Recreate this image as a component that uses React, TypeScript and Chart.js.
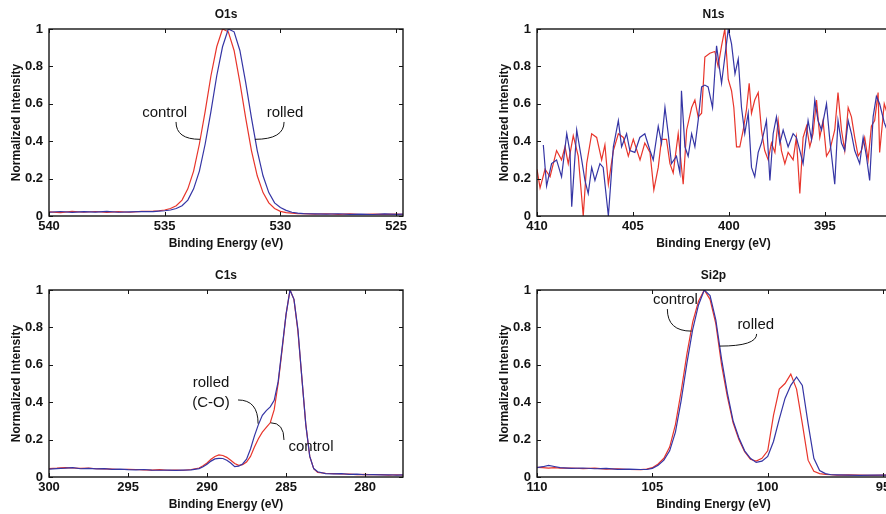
import React, { useEffect, useRef } from 'react';
import { Chart, registerables } from 'chart.js';

Chart.register(...registerables);

const FONT = 'Arial, "Liberation Sans", Helvetica, sans-serif';
const RED = '#e8352b';
const BLUE = '#3535a5';
const INK = '#141414';

// ---------- shared axis labels ----------
const yTicks = [0, 0.2, 0.4, 0.6, 0.8, 1];
const yTickLabels = ['0', '0.2', '0.4', '0.6', '0.8', '1'];
const xAxisTitle = 'Binding Energy (eV)';
const yAxisTitle = 'Normalized Intensity';

// ---------- O1s ----------
const o1sTicks = [540, 535, 530, 525];
const o1sTickLabels = ['540', '535', '530', '525'];
const o1sX = [
  540, 539.5, 539, 538.5, 538, 537.5, 537, 536.5, 536, 535.5,
  535.25, 535, 534.75, 534.5, 534.25, 534, 533.75, 533.5, 533.25, 533,
  532.75, 532.5, 532.25, 532, 531.75, 531.5, 531.25, 531, 530.75, 530.5,
  530.25, 530, 529.75, 529.5, 529.25, 529, 528.5, 528, 527.5, 527,
  526.5, 526, 525.5, 525, 524.7,
];
const o1sControl = [
  0.022, 0.018, 0.025, 0.02, 0.024, 0.019, 0.023, 0.02, 0.025, 0.026,
  0.028, 0.032, 0.04, 0.055, 0.085, 0.145, 0.24, 0.385, 0.56, 0.75,
  0.905, 1.0, 0.985, 0.885, 0.715, 0.525, 0.35, 0.215, 0.125, 0.07,
  0.04, 0.025, 0.018, 0.015, 0.012, 0.013, 0.01, 0.012, 0.009, 0.011,
  0.008, 0.01, 0.009, 0.01, 0.009,
];
const o1sRolled = [
  0.02, 0.024, 0.019, 0.023, 0.021, 0.025, 0.02, 0.022, 0.024, 0.023,
  0.026, 0.028, 0.032, 0.04, 0.055, 0.085, 0.145, 0.24, 0.385, 0.56,
  0.75, 0.905, 1.0, 0.985, 0.885, 0.715, 0.525, 0.35, 0.215, 0.125,
  0.07, 0.045, 0.03, 0.02, 0.015, 0.013, 0.011, 0.01, 0.012, 0.009,
  0.01, 0.008, 0.011, 0.009, 0.01,
];

// ---------- N1s ----------
const n1sTicks = [410, 405, 400, 395];
const n1sTickLabels = ['410', '405', '400', '395'];
const n1sControlX = [
  410.0, 409.84, 409.58, 409.32, 408.98, 408.72, 408.54, 408.37, 408.11, 407.85,
  407.59, 407.41, 407.15, 406.89, 406.63, 406.46, 406.28, 406.02, 405.76, 405.5,
  405.24, 404.98, 404.63, 404.38, 404.11, 403.91, 403.68, 403.51, 403.25, 403.07,
  402.9, 402.64, 402.38, 402.2, 401.94, 401.77, 401.6, 401.42, 401.25, 400.99,
  400.73, 400.56, 400.38, 400.21, 400.03, 399.86, 399.74, 399.6, 399.43, 399.25,
  399.08, 398.94, 398.82, 398.65, 398.47, 398.3, 398.13, 397.95, 397.78, 397.6,
  397.43, 397.26, 397.08, 396.91, 396.65, 396.48, 396.3, 396.13, 395.95, 395.78,
  395.61, 395.43, 395.26, 395.09, 394.91, 394.74, 394.48, 394.31, 394.13, 393.96,
  393.78, 393.61, 393.44, 393.26, 393.09, 392.92, 392.74, 392.57, 392.4, 392.22,
  392.14, 391.9, 391.6,
];
const n1sControl = [
  0.25, 0.15, 0.25, 0.21, 0.35, 0.3, 0.37, 0.28, 0.43, 0.32,
  0.0, 0.28, 0.44, 0.42, 0.3, 0.38, 0.17, 0.35, 0.44, 0.42,
  0.32, 0.41, 0.3, 0.39, 0.34, 0.14, 0.26, 0.41, 0.41, 0.28,
  0.23, 0.44, 0.17, 0.46, 0.58, 0.62, 0.53, 0.55, 0.85, 0.87,
  0.88, 0.8, 0.91, 1.0, 0.73, 0.67, 0.58, 0.37, 0.37, 0.46,
  0.57, 0.71, 0.55, 0.62, 0.66, 0.46, 0.35, 0.3, 0.39, 0.34,
  0.51, 0.35, 0.28, 0.34, 0.3, 0.42, 0.12, 0.42, 0.48, 0.37,
  0.44, 0.62, 0.42, 0.51, 0.32, 0.35, 0.46, 0.66, 0.46, 0.35,
  0.58, 0.53, 0.42, 0.32, 0.35, 0.42, 0.3, 0.48, 0.51, 0.66,
  0.34, 0.6, 0.5,
];
const n1sRolledX = [
  409.67, 409.5, 409.24, 408.98, 408.72, 408.45, 408.28, 408.19, 407.93, 407.67,
  407.5, 407.33, 407.15, 406.98, 406.72, 406.55, 406.28, 406.02, 405.76, 405.59,
  405.33, 405.16, 404.9, 404.64, 404.38, 404.11, 403.94, 403.68, 403.51, 403.33,
  403.16, 402.99, 402.73, 402.55, 402.47, 402.29, 402.12, 401.94, 401.77, 401.6,
  401.42, 401.25, 401.08, 400.85, 400.64, 400.5, 400.38, 400.21, 400.03, 399.86,
  399.68, 399.51, 399.34, 399.17, 398.99, 398.82, 398.65, 398.47, 398.3, 398.04,
  397.86, 397.69, 397.52, 397.34, 397.17, 396.91, 396.65, 396.48, 396.3, 396.13,
  395.87, 395.69, 395.52, 395.35, 395.17, 394.91, 394.74, 394.48, 394.31, 394.13,
  393.96, 393.78, 393.61, 393.44, 393.18, 393.0, 392.83, 392.66, 392.48, 392.31,
  392.14, 391.9, 391.6,
];
const n1sRolled = [
  0.38, 0.16, 0.28, 0.3, 0.21, 0.44, 0.34, 0.05, 0.46, 0.3,
  0.19, 0.12, 0.26, 0.19, 0.28, 0.26, 0.0, 0.37, 0.51, 0.37,
  0.44, 0.35, 0.34, 0.42, 0.44, 0.35, 0.3, 0.48, 0.39, 0.58,
  0.44, 0.28, 0.32, 0.23, 0.67, 0.37, 0.32, 0.44, 0.37, 0.51,
  0.69, 0.7, 0.69, 0.58, 0.91, 0.8, 0.71, 0.85, 1.0, 0.92,
  0.76, 0.84, 0.58, 0.44, 0.55, 0.26, 0.21, 0.34, 0.39, 0.51,
  0.19, 0.44, 0.53, 0.39, 0.46, 0.37, 0.44, 0.42, 0.35, 0.28,
  0.51, 0.41, 0.62, 0.51, 0.46, 0.6, 0.41, 0.17, 0.51, 0.39,
  0.35, 0.51, 0.44, 0.35, 0.28, 0.42, 0.32, 0.19, 0.53, 0.64,
  0.6, 0.5, 0.42,
];

// ---------- C1s ----------
const c1sTicks = [300, 295, 290, 285, 280];
const c1sTickLabels = ['300', '295', '290', '285', '280'];
const c1sX = [
  300, 299.5, 299, 298.5, 298, 297.5, 297, 296.5, 296, 295.5,
  295, 294.5, 294, 293.5, 293, 292.5, 292, 291.5, 291, 290.5,
  290.25, 290, 289.75, 289.5, 289.25, 289, 288.75, 288.5, 288.25, 288,
  287.75, 287.5, 287.25, 287, 286.75, 286.5, 286.25, 286, 285.75, 285.5,
  285.25, 285, 284.75, 284.5, 284.25, 284, 283.75, 283.5, 283.25, 283,
  282.5, 282, 281.5, 281, 280.5, 280, 279.5, 279, 278.5, 278,
  277.6,
];
const c1sControl = [
  0.045, 0.047, 0.05, 0.048, 0.046, 0.047, 0.044, 0.043, 0.042, 0.04,
  0.041, 0.04, 0.038, 0.037, 0.039, 0.036, 0.037, 0.036, 0.04, 0.048,
  0.06, 0.075, 0.095, 0.11, 0.118, 0.115, 0.105, 0.09, 0.072, 0.062,
  0.066, 0.08, 0.11, 0.16, 0.205, 0.24, 0.265, 0.29, 0.36, 0.5,
  0.68, 0.87, 1.0, 0.95, 0.78, 0.53, 0.28, 0.11, 0.045, 0.025,
  0.02, 0.018, 0.016, 0.015, 0.013, 0.014, 0.012, 0.013, 0.01, 0.012,
  0.01,
];
const c1sRolled = [
  0.042, 0.045, 0.047, 0.05, 0.044, 0.046, 0.043, 0.045, 0.041, 0.042,
  0.039, 0.038, 0.04, 0.037, 0.036, 0.037, 0.035, 0.037, 0.038, 0.045,
  0.055, 0.068, 0.085, 0.097, 0.1, 0.099, 0.09, 0.075, 0.055, 0.058,
  0.07, 0.095, 0.15, 0.22, 0.28, 0.33, 0.355, 0.375, 0.41, 0.51,
  0.69, 0.87, 1.0, 0.95, 0.79, 0.53, 0.28, 0.11, 0.045, 0.028,
  0.018, 0.017, 0.018, 0.014, 0.015, 0.012, 0.013, 0.011, 0.012, 0.01,
  0.011,
];

// ---------- Si2p ----------
const si2pTicks = [110, 105, 100, 95];
const si2pTickLabels = ['110', '105', '100', '95'];
const si2pX = [
  110, 109.75, 109.5, 109.25, 109,
  108.5, 108, 107.5, 107, 106.5, 106, 105.5,
  105.25, 105, 104.75, 104.5, 104.25, 104, 103.75, 103.5, 103.25, 103,
  102.75, 102.5, 102.25, 102, 101.75, 101.5, 101.25, 101, 100.75, 100.5,
  100.25, 100, 99.75, 99.5, 99.25, 99, 98.75, 98.5, 98.25, 98,
  97.75, 97.5, 97.25, 97,
  96.5, 96, 95.5, 95, 94.7,
];
const si2pControl = [
  0.052, 0.05, 0.048, 0.05, 0.047,
  0.048, 0.045, 0.047, 0.042, 0.044, 0.04, 0.039,
  0.042, 0.05, 0.07, 0.1, 0.16, 0.28, 0.46, 0.66, 0.83, 0.94,
  1.0, 0.95, 0.82, 0.6, 0.43, 0.29, 0.2, 0.135, 0.095, 0.085,
  0.1, 0.14, 0.33, 0.47, 0.5, 0.55, 0.47, 0.285, 0.09, 0.03,
  0.018, 0.014, 0.012, 0.01,
  0.011, 0.01, 0.009, 0.01, 0.01,
];
const si2pRolled = [
  0.05, 0.055, 0.062, 0.056, 0.05,
  0.046, 0.048, 0.044, 0.046, 0.041, 0.042, 0.04,
  0.04, 0.046, 0.063, 0.09, 0.14, 0.24, 0.41, 0.61, 0.79, 0.92,
  1.0, 0.97, 0.84, 0.63, 0.45, 0.3, 0.21, 0.14, 0.1, 0.078,
  0.085, 0.11, 0.19, 0.31, 0.42, 0.49, 0.535, 0.49, 0.285, 0.1,
  0.035, 0.018, 0.012, 0.011,
  0.01, 0.009, 0.01, 0.01, 0.01,
];

// ---------- annotations (data coordinates) ----------
type Pt = [number, number];
type Note = { text: string; at: Pt; from?: Pt; to?: Pt; bend?: 'v' | 'h' };

const o1sNotes: Note[] = [
  { text: 'control', at: [535.0, 0.551], from: [534.51, 0.503], to: [533.47, 0.41], bend: 'v' },
  { text: 'rolled', at: [529.8, 0.551], from: [529.84, 0.503], to: [531.1, 0.41], bend: 'v' },
];
const c1sNotes: Note[] = [
  { text: 'rolled', at: [289.75, 0.503] },
  { text: '(C-O)', at: [289.75, 0.396], from: [288.04, 0.412], to: [286.77, 0.285], bend: 'h' },
  { text: 'control', at: [283.42, 0.16], from: [285.98, 0.29], to: [285.13, 0.198], bend: 'h' },
];
const si2pNotes: Note[] = [
  { text: 'control', at: [104.0, 0.947], from: [104.35, 0.898], to: [103.3, 0.78], bend: 'v' },
  { text: 'rolled', at: [100.52, 0.813], from: [100.48, 0.765], to: [102.09, 0.7], bend: 'v' },
];

type Series = { x: number[]; y: number[] };
type Panel = {
  title: string;
  xMin: number;
  xMax: number;
  xTicks: number[];
  xTickLabels: string[];
  control: Series;
  rolled: Series;
  notes: Note[];
  left: number;
  top: number;
  width: number;
  padLeft: number;
  padRight: number;
};

const panels: Panel[] = [
  {
    title: 'O1s', xMin: 524.7, xMax: 540, xTicks: o1sTicks, xTickLabels: o1sTickLabels,
    control: { x: o1sX, y: o1sControl }, rolled: { x: o1sX, y: o1sRolled }, notes: o1sNotes,
    left: 0, top: 0, width: 443, padLeft: 0, padRight: 40,
  },
  {
    title: 'N1s', xMin: 391.6, xMax: 410, xTicks: n1sTicks, xTickLabels: n1sTickLabels,
    control: { x: n1sControlX, y: n1sControl }, rolled: { x: n1sRolledX, y: n1sRolled }, notes: [],
    left: 443, top: 0, width: 460, padLeft: 45, padRight: 13,
  },
  {
    title: 'C1s', xMin: 277.6, xMax: 300, xTicks: c1sTicks, xTickLabels: c1sTickLabels,
    control: { x: c1sX, y: c1sControl }, rolled: { x: c1sX, y: c1sRolled }, notes: c1sNotes,
    left: 0, top: 261, width: 443, padLeft: 0, padRight: 40,
  },
  {
    title: 'Si2p', xMin: 94.7, xMax: 110, xTicks: si2pTicks, xTickLabels: si2pTickLabels,
    control: { x: si2pX, y: si2pControl }, rolled: { x: si2pX, y: si2pRolled }, notes: si2pNotes,
    left: 443, top: 261, width: 460, padLeft: 45, padRight: 13,
  },
];

const CANVAS_H = 257;

const framePlugin = {
  id: 'frame',
  afterDatasetsDraw(chart: any, _args: any, opts: any) {
    const { ctx, chartArea, scales } = chart;
    const { left, right, top, bottom } = chartArea;
    const xs = scales.x;
    const ys = scales.y;
    ctx.save();
    ctx.strokeStyle = INK;
    ctx.lineWidth = 1;
    ctx.beginPath();
    for (const t of xs.ticks) {
      const px = Math.round(xs.getPixelForValue(t.value)) + 0.5;
      ctx.moveTo(px, bottom);
      ctx.lineTo(px, bottom - 4);
      ctx.moveTo(px, top);
      ctx.lineTo(px, top + 4);
    }
    for (const t of ys.ticks) {
      const py = Math.round(ys.getPixelForValue(t.value)) + 0.5;
      ctx.moveTo(left, py);
      ctx.lineTo(left + 4, py);
      ctx.moveTo(right, py);
      ctx.lineTo(right - 4, py);
    }
    ctx.stroke();
    ctx.lineWidth = 1.4;
    ctx.strokeRect(left, top, right - left, bottom - top);

    ctx.fillStyle = INK;
    ctx.textAlign = 'center';
    ctx.textBaseline = 'middle';
    ctx.font = `bold 12px ${FONT}`;
    ctx.fillText(opts.title, (left + right) / 2, top - 14);

    ctx.font = `15px ${FONT}`;
    ctx.lineWidth = 1;
    for (const n of opts.notes as Note[]) {
      ctx.fillText(n.text, xs.getPixelForValue(n.at[0]), ys.getPixelForValue(n.at[1]));
      if (n.from && n.to) {
        const fx = xs.getPixelForValue(n.from[0]);
        const fy = ys.getPixelForValue(n.from[1]);
        const ex = xs.getPixelForValue(n.to[0]);
        const ey = ys.getPixelForValue(n.to[1]);
        ctx.beginPath();
        ctx.moveTo(fx, fy);
        if (n.bend === 'v') ctx.quadraticCurveTo(fx, ey, ex, ey);
        else ctx.quadraticCurveTo(ex, fy, ex, ey);
        ctx.stroke();
      }
    }
    ctx.restore();
  },
};

function toPoints(s: Series) {
  return s.x.map((x, i) => ({ x, y: s.y[i] }));
}

function PanelChart({ p }: { p: Panel }) {
  const ref = useRef<HTMLCanvasElement>(null);
  useEffect(() => {
    const canvas = ref.current;
    if (!canvas) return;
    const chart = new Chart(canvas, {
      type: 'line',
      data: {
        datasets: [
          {
            label: 'rolled',
            data: toPoints(p.rolled),
            borderColor: BLUE,
            borderWidth: 1.2,
            pointRadius: 0,
            tension: 0,
            fill: false,
          },
          {
            label: 'control',
            data: toPoints(p.control),
            borderColor: RED,
            borderWidth: 1.2,
            pointRadius: 0,
            tension: 0,
            fill: false,
          },
        ],
      },
      options: {
        responsive: false,
        animation: false,
        devicePixelRatio: 1,
        events: [],
        layout: { padding: { left: p.padLeft, right: p.padRight, top: 29, bottom: 0 } },
        plugins: {
          legend: { display: false },
          tooltip: { enabled: false },
          title: { display: false },
          // @ts-ignore
          frame: { title: p.title, notes: p.notes },
        },
        scales: {
          x: {
            type: 'linear',
            reverse: true,
            min: p.xMin,
            max: p.xMax,
            grid: { display: false, drawTicks: false },
            border: { display: false },
            ticks: {
              autoSkip: false,
              maxRotation: 0,
              padding: 3,
              color: INK,
              font: { family: FONT, size: 13, weight: 'bold' },
              callback: (_v: any, i: number) => p.xTickLabels[i],
            },
            afterBuildTicks: (s: any) => {
              s.ticks = p.xTicks.map((v) => ({ value: v }));
            },
            afterFit: (s: any) => {
              s.height = 41;
            },
            title: {
              display: true,
              text: xAxisTitle,
              color: INK,
              font: { family: FONT, size: 12, weight: 'bold' },
              padding: { top: 0, bottom: 6 },
            },
          },
          y: {
            type: 'linear',
            min: 0,
            max: 1,
            grid: { display: false, drawTicks: false },
            border: { display: false },
            ticks: {
              autoSkip: false,
              padding: 6,
              color: INK,
              font: { family: FONT, size: 13, weight: 'bold' },
              callback: (_v: any, i: number) => yTickLabels[i],
            },
            afterBuildTicks: (s: any) => {
              s.ticks = yTicks.map((v) => ({ value: v }));
            },
            afterFit: (s: any) => {
              s.width = 49;
            },
            title: {
              display: true,
              text: yAxisTitle,
              color: INK,
              font: { family: FONT, size: 12, weight: 'bold' },
              padding: { top: 9, bottom: 0 },
            },
          },
        },
      } as any,
      plugins: [framePlugin],
    });
    return () => chart.destroy();
  }, [p]);
  return (
    <canvas
      ref={ref}
      width={p.width}
      height={CANVAS_H}
      style={{ position: 'absolute', left: p.left, top: p.top, width: p.width, height: CANVAS_H }}
    />
  );
}

export default function App() {
  return (
    <div
      style={{
        position: 'fixed',
        left: 0,
        top: 0,
        width: 886,
        height: 514,
        overflow: 'hidden',
        background: '#ffffff',
      }}
    >
      {panels.map((p) => (
        <PanelChart key={p.title} p={p} />
      ))}
    </div>
  );
}
